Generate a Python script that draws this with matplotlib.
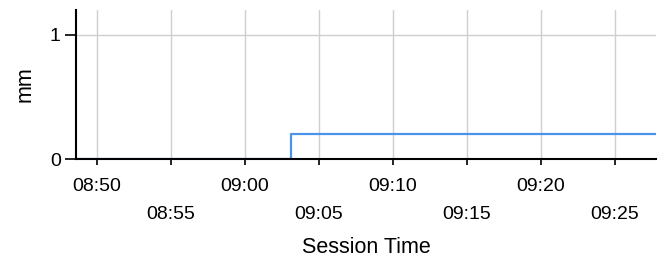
import numpy as np
import pandas as pd
import matplotlib
matplotlib.use("Agg")
import matplotlib.pyplot as plt
import matplotlib.dates as mdates

# data
times = ["2024-01-01 08:48:35", "2024-01-01 09:03:06", "2024-01-01 09:27:45"]
values = [0.0, 0.2, 0.2]
xstart = "2024-01-01 08:48:35"
xend = "2024-01-01 09:27:46"

plt.rcParams['font.family'] = ['Liberation Sans', 'DejaVu Sans']
fsize = 14
lsize = 15.5

t = pd.to_datetime(times)
fig = plt.figure(figsize=(6.67, 2.61), dpi=100)
ax = fig.add_axes([0.114, 0.3908, 0.8695, 0.5709])

ax.plot(t, values, drawstyle="steps-post", color="#4a92ea", linewidth=1.6)

ax.set_xlim(pd.to_datetime(xstart), pd.to_datetime(xend))
ax.set_ylim(0, 1.2)
ax.set_yticks([0, 1])

# labels alternate in two rows: 10 min on top row, 5 min offsets below
ax.xaxis.set_major_locator(mdates.MinuteLocator(byminute=[0, 10, 20, 30, 40, 50]))
ax.xaxis.set_minor_locator(mdates.MinuteLocator(byminute=[5, 15, 25, 35, 45, 55]))
ax.xaxis.set_major_formatter(mdates.DateFormatter("%H:%M"))
ax.xaxis.set_minor_formatter(mdates.DateFormatter("%H:%M"))
ax.tick_params(axis="x", which="major", length=4, pad=10, labelsize=fsize, width=1.2)
ax.tick_params(axis="x", which="minor", length=4, pad=30, labelsize=fsize, width=1.2)
ax.tick_params(axis="y", length=8, pad=3, labelsize=fsize, width=1.2)

ax.grid(True, which="both", axis="x", color="#cfcfcf", linewidth=1)
ax.grid(True, which="major", axis="y", color="#cfcfcf", linewidth=1)
ax.set_axisbelow(True)

for s in ["top", "right"]:
    ax.spines[s].set_visible(False)
ax.spines["left"].set_linewidth(1.5)
ax.spines["bottom"].set_linewidth(1.5)

ax.set_ylabel("mm", fontsize=lsize, labelpad=10)
ax.set_xlabel("Session Time", fontsize=lsize, labelpad=10)

fig.savefig("out.png", dpi=100)
